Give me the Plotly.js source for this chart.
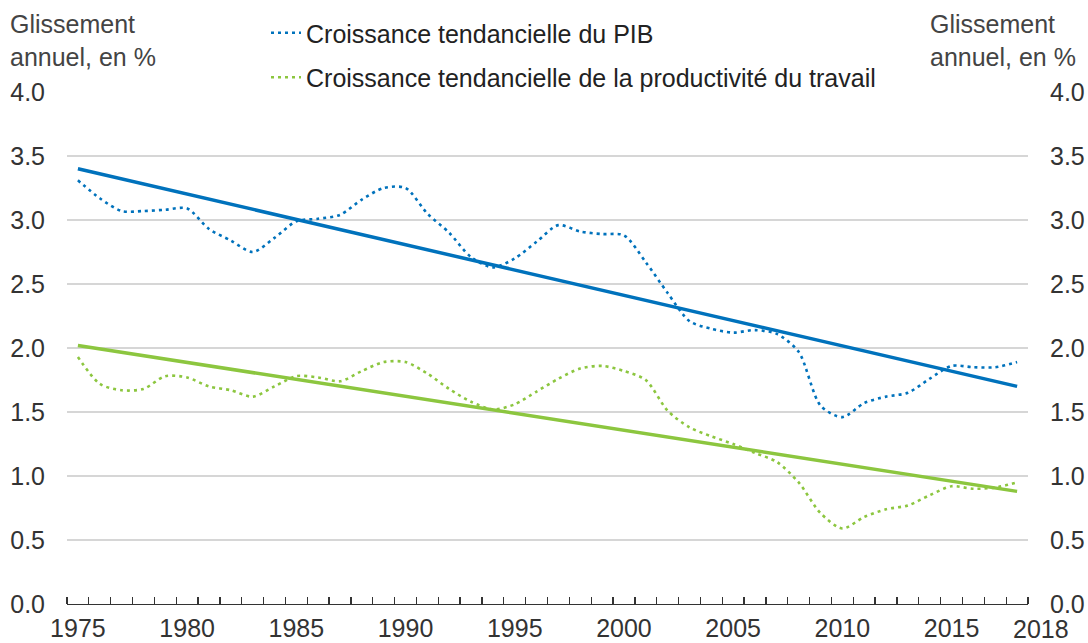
<!DOCTYPE html>
<html>
<head>
<meta charset="utf-8">
<script src="https://cdn.plot.ly/plotly-3.0.1.min.js"></script>
<style>html,body{margin:0;padding:0;background:#fff;}#chart{width:1088px;height:643px;}</style>
</head>
<body>
<div id="chart"></div>
<script>
// ---- Data ----
const years = [1975,1976,1977,1978,1979,1980,1981,1982,1983,1984,1985,1986,1987,1988,1989,
  1990,1991,1992,1993,1994,1995,1996,1997,1998,1999,2000,2001,2002,2003,2004,2005,2006,2007,
  2008,2009,2010,2011,2012,2013,2014,2015,2016,2017,2018];
const gdpTrendGrowth = [3.31,3.17,3.07,3.07,3.08,3.09,2.93,2.84,2.75,2.86,2.99,3.01,3.04,3.16,3.25,
  3.25,3.05,2.90,2.71,2.63,2.70,2.83,2.96,2.91,2.89,2.88,2.67,2.43,2.21,2.15,2.12,2.14,2.11,
  1.97,1.55,1.46,1.57,1.62,1.65,1.76,1.86,1.85,1.85,1.89];
const productivityTrendGrowth = [1.93,1.72,1.67,1.68,1.78,1.77,1.70,1.67,1.62,1.70,1.78,1.77,1.74,1.82,1.89,
  1.89,1.80,1.68,1.58,1.52,1.56,1.66,1.76,1.84,1.86,1.82,1.75,1.51,1.38,1.31,1.25,1.18,1.11,
  0.95,0.71,0.59,0.68,0.74,0.77,0.85,0.92,0.90,0.91,0.95];
const trendYears = [1975, 2018];
const gdpLinearTrend = [3.40, 1.70];
const productivityLinearTrend = [2.02, 0.88];
const seriesNames = ["Croissance tendancielle du PIB", "Croissance tendancielle de la productivité du travail"];
const xTickYears = [1975,1980,1985,1990,1995,2000,2005,2010,2015];
const xTickLabels = ["1975","1980","1985","1990","1995","2000","2005","2010","2015"];
const lastYearLabel = "2018";
const yTitle = "Glissement<br>annuel, en %";

// ---- Styles ----
const FONT = "Liberation Sans Narrow, Arial Narrow, Liberation Sans, Arial, sans-serif";
const BLUE = "#0072BC";
const GREEN = "#8CC63F";
const TXT = "#333333";
const dotDash = "3px,4px";

const bandEdges = years.map(y => y - 0.5).concat([years[years.length-1] + 0.5]);

const traces = [
  {x: years, y: gdpTrendGrowth, name: seriesNames[0], type: "scatter", mode: "lines",
   line: {color: BLUE, width: 2.6, dash: dotDash, shape: "spline", smoothing: 0.8}, legendgroup: "a", hoverinfo: "skip"},
  {x: years, y: productivityTrendGrowth, name: seriesNames[1], type: "scatter", mode: "lines",
   line: {color: GREEN, width: 2.6, dash: dotDash, shape: "spline", smoothing: 0.8}, legendgroup: "b", hoverinfo: "skip"},
  {x: trendYears, y: gdpLinearTrend, type: "scatter", mode: "lines", showlegend: false,
   line: {color: BLUE, width: 3.5}, hoverinfo: "skip"},
  {x: trendYears, y: productivityLinearTrend, type: "scatter", mode: "lines", showlegend: false,
   line: {color: GREEN, width: 3.5}, yaxis: "y2", hoverinfo: "skip"}
];

const W = 1088, H = 643;
const L = 67, R = 60, T = 92, B = 39;
const pw = W - L - R, ph = H - T - B;
const px2x = p => (p - L) / pw;
const py2y = p => (H - B - p) / ph;

const layout = {
  width: W, height: H,
  margin: {l: L, r: R, t: T, b: B, autoexpand: false},
  paper_bgcolor: "#fff", plot_bgcolor: "#fff",
  font: {family: FONT, size: 25, color: TXT},
  showlegend: true,
  legend: {x: px2x(266), y: py2y(10), xanchor: "left", yanchor: "top", xref: "paper", yref: "paper",
    bgcolor: "rgba(0,0,0,0)", font: {family: FONT, size: 25, color: "#222"},
    tracegroupgap: 9, traceorder: "grouped"},
  xaxis: {
    range: [1974.5, 2018.5], showgrid: false, zeroline: false,
    showline: true, linecolor: "#333", linewidth: 1.3,
    tickmode: "array", tickvals: xTickYears, ticktext: xTickLabels, ticks: "",
    ticklabelstandoff: 2,
    tickfont: {family: FONT, size: 25, color: TXT},
    minor: {tickmode: "array", tickvals: bandEdges, ticks: "inside", ticklen: 7, tickwidth: 1.3, tickcolor: "#333", showgrid: false}
  },
  yaxis: {
    range: [0, 4], dtick: 0.5, tick0: 0, tickformat: ".1f",
    showgrid: true, gridcolor: "#d6d6d6", gridwidth: 1.3, zeroline: false, showline: false,
    ticks: "", ticklabelstandoff: 21,
    tickfont: {family: FONT, size: 25, color: TXT}
  },
  yaxis2: {
    range: [0, 4], dtick: 0.5, tick0: 0, tickformat: ".1f", overlaying: "y", side: "right",
    showgrid: false, zeroline: false, showline: false, ticks: "", ticklabelstandoff: 21,
    tickfont: {family: FONT, size: 25, color: TXT}
  },
  annotations: [
    {text: yTitle, xref: "paper", yref: "paper", x: px2x(8), y: py2y(8), xanchor: "left", yanchor: "top",
     align: "left", showarrow: false, font: {family: FONT, size: 25, color: "#444"}},
    {text: yTitle, xref: "paper", yref: "paper", x: px2x(928), y: py2y(8), xanchor: "left", yanchor: "top",
     align: "left", showarrow: false, font: {family: FONT, size: 25, color: "#444"}},
    {text: lastYearLabel, xref: "paper", yref: "paper", x: px2x(1041), y: py2y(629), xanchor: "center", yanchor: "middle",
     showarrow: false, font: {family: FONT, size: 25, color: TXT}}
  ]
};

Plotly.newPlot("chart", traces, layout, {displayModeBar: false, staticPlot: true});
</script>
</body>
</html>
